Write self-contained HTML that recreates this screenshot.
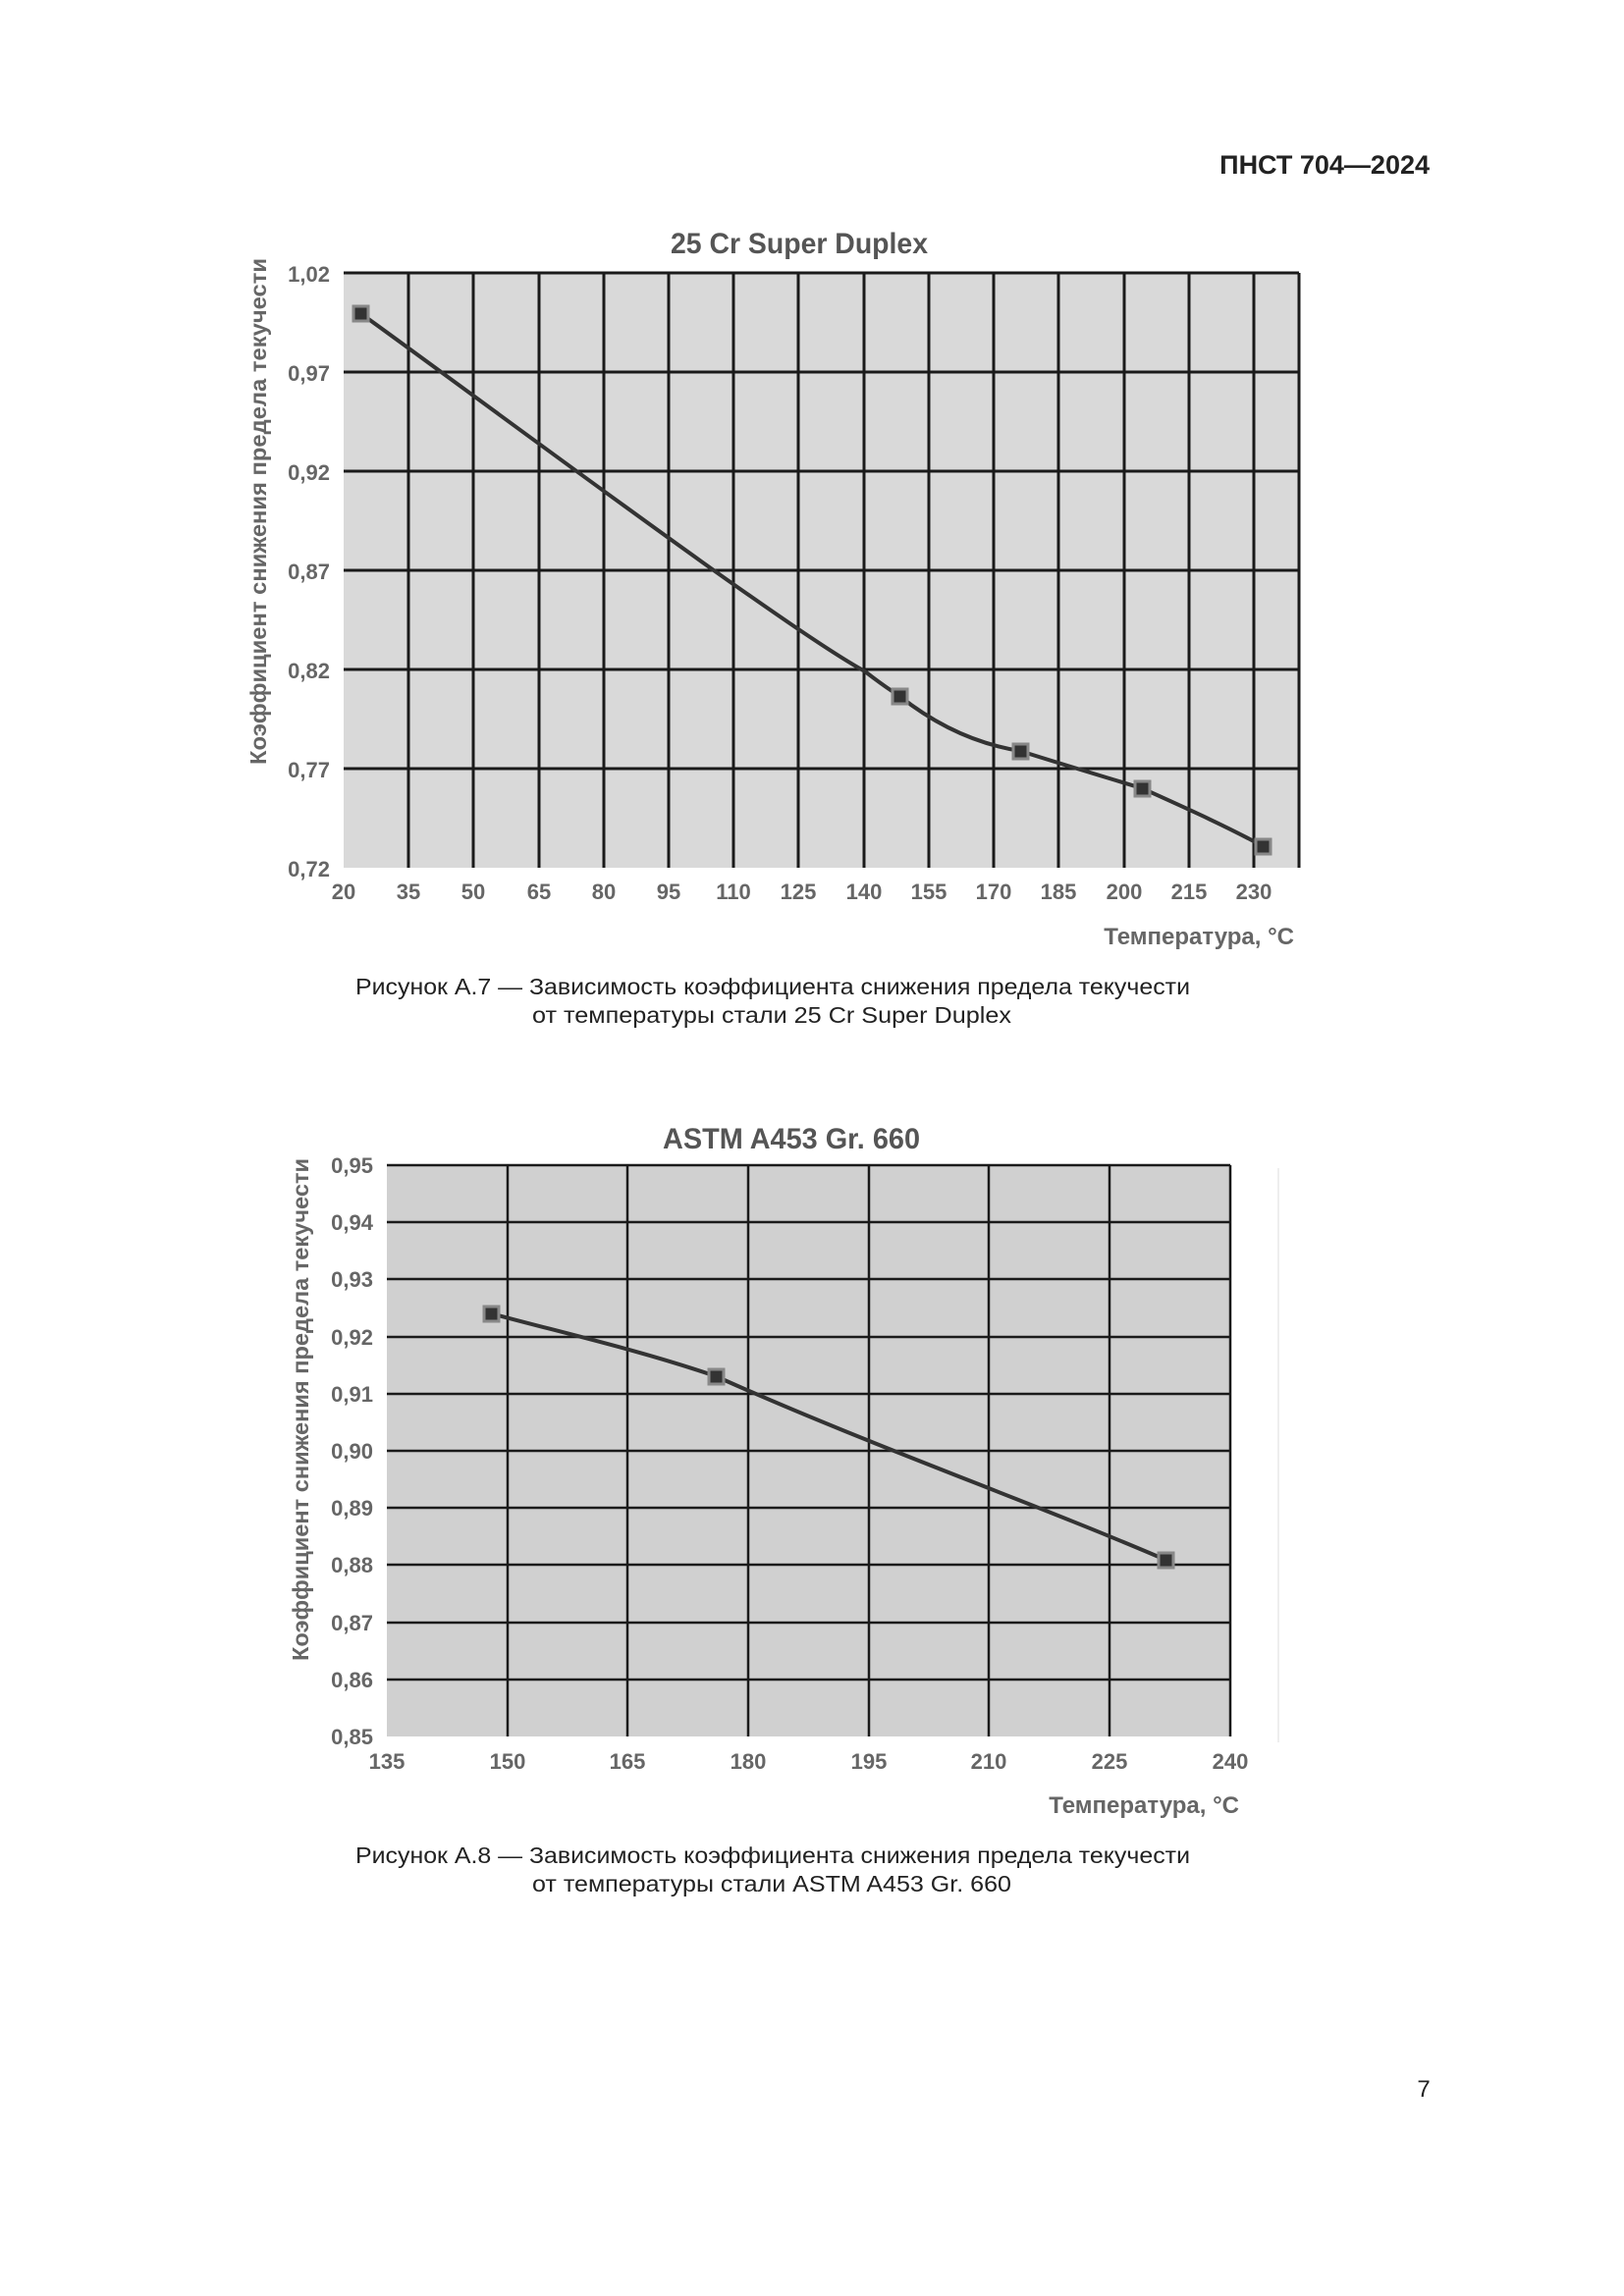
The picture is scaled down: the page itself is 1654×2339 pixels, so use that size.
<!DOCTYPE html>
<html><head><meta charset="utf-8"><style>
html,body{margin:0;padding:0;background:#fff}
svg{display:block}
</style></head><body>
<svg width="1654" height="2339" viewBox="0 0 1654 2339" xmlns="http://www.w3.org/2000/svg" font-family="'Liberation Sans', sans-serif">
<rect width="1654" height="2339" fill="#fff"/>
<text x="1456" y="177" text-anchor="end" font-size="27" font-weight="bold" fill="#222">ПНСТ 704—2024</text>

<!-- Chart 1 -->
<text x="814" y="258" text-anchor="middle" font-size="30" font-weight="bold" fill="#555" textLength="262" lengthAdjust="spacingAndGlyphs">25 Cr Super Duplex</text>
<rect x="350" y="278" width="973" height="606" fill="#d9d9d9"/>
<g stroke="#1a1a1a" stroke-width="3">
<line x1="350" y1="278" x2="1323" y2="278"/>
<line x1="350" y1="379" x2="1323" y2="379"/>
<line x1="350" y1="480" x2="1323" y2="480"/>
<line x1="350" y1="581" x2="1323" y2="581"/>
<line x1="350" y1="682" x2="1323" y2="682"/>
<line x1="350" y1="783" x2="1323" y2="783"/>
<line x1="416" y1="278" x2="416" y2="884"/>
<line x1="482" y1="278" x2="482" y2="884"/>
<line x1="549" y1="278" x2="549" y2="884"/>
<line x1="615" y1="278" x2="615" y2="884"/>
<line x1="681" y1="278" x2="681" y2="884"/>
<line x1="747" y1="278" x2="747" y2="884"/>
<line x1="813" y1="278" x2="813" y2="884"/>
<line x1="880" y1="278" x2="880" y2="884"/>
<line x1="946" y1="278" x2="946" y2="884"/>
<line x1="1012" y1="278" x2="1012" y2="884"/>
<line x1="1078" y1="278" x2="1078" y2="884"/>
<line x1="1145" y1="278" x2="1145" y2="884"/>
<line x1="1211" y1="278" x2="1211" y2="884"/>
<line x1="1277" y1="278" x2="1277" y2="884"/>
<line x1="1323" y1="278" x2="1323" y2="884"/>
</g>
<g font-size="22" font-weight="bold" fill="#666" text-anchor="end">
<text x="336" y="287">1,02</text>
<text x="336" y="388">0,97</text>
<text x="336" y="489">0,92</text>
<text x="336" y="590">0,87</text>
<text x="336" y="691">0,82</text>
<text x="336" y="792">0,77</text>
<text x="336" y="893">0,72</text>
</g>
<g font-size="22" font-weight="bold" fill="#666" text-anchor="middle">
<text x="350" y="916">20</text><text x="416" y="916">35</text><text x="482" y="916">50</text><text x="549" y="916">65</text><text x="615" y="916">80</text><text x="681" y="916">95</text><text x="747" y="916">110</text><text x="813" y="916">125</text><text x="880" y="916">140</text><text x="946" y="916">155</text><text x="1012" y="916">170</text><text x="1078" y="916">185</text><text x="1145" y="916">200</text><text x="1211" y="916">215</text><text x="1277" y="916">230</text>
</g>
<text x="1318" y="962" text-anchor="end" font-size="24" font-weight="bold" fill="#666">Температура, °С</text>
<text transform="translate(271,521) rotate(-90)" text-anchor="middle" font-size="23" font-weight="bold" fill="#666" textLength="516" lengthAdjust="spacingAndGlyphs">Коэффициент снижения предела текучести</text>
<path d="M367,319 C500,415 800,640 881,684 C895,695 905,702 916,709 C955,740 995,758 1039,765 C1080,778 1120,790 1163,803 C1205,822 1250,842 1286,862" fill="none" stroke="#333" stroke-width="4"/>
<g fill="#333" stroke="#888" stroke-width="3">
<rect x="360" y="312" width="15" height="15"/>
<rect x="909" y="702" width="15" height="15"/>
<rect x="1032" y="758" width="15" height="15"/>
<rect x="1156" y="796" width="15" height="15"/>
<rect x="1279" y="855" width="15" height="15"/>
</g>
<g font-size="23" fill="#222" text-anchor="middle">
<text x="787" y="1013" textLength="850" lengthAdjust="spacingAndGlyphs">Рисунок А.7 — Зависимость коэффициента снижения предела текучести</text>
<text x="786" y="1042" textLength="488" lengthAdjust="spacingAndGlyphs">от температуры стали 25 Cr Super Duplex</text>
</g>

<!-- Chart 2 -->
<text x="806" y="1170" text-anchor="middle" font-size="30" font-weight="bold" fill="#555" textLength="262" lengthAdjust="spacingAndGlyphs">ASTM A453 Gr. 660</text>
<line x1="1302" y1="1190" x2="1302" y2="1775" stroke="#eee" stroke-width="2"/>
<rect x="394" y="1187" width="859" height="582" fill="#d0d0d0"/>
<g stroke="#1a1a1a" stroke-width="2.5">
<line x1="394" y1="1187" x2="1253" y2="1187"/>
<line x1="394" y1="1245" x2="1253" y2="1245"/>
<line x1="394" y1="1303" x2="1253" y2="1303"/>
<line x1="394" y1="1362" x2="1253" y2="1362"/>
<line x1="394" y1="1420" x2="1253" y2="1420"/>
<line x1="394" y1="1478" x2="1253" y2="1478"/>
<line x1="394" y1="1536" x2="1253" y2="1536"/>
<line x1="394" y1="1594" x2="1253" y2="1594"/>
<line x1="394" y1="1653" x2="1253" y2="1653"/>
<line x1="394" y1="1711" x2="1253" y2="1711"/>
<line x1="517" y1="1187" x2="517" y2="1769"/>
<line x1="639" y1="1187" x2="639" y2="1769"/>
<line x1="762" y1="1187" x2="762" y2="1769"/>
<line x1="885" y1="1187" x2="885" y2="1769"/>
<line x1="1007" y1="1187" x2="1007" y2="1769"/>
<line x1="1130" y1="1187" x2="1130" y2="1769"/>
<line x1="1253" y1="1187" x2="1253" y2="1769"/>
</g>
<g font-size="22" font-weight="bold" fill="#666" text-anchor="end">
<text x="380" y="1195">0,95</text><text x="380" y="1253">0,94</text><text x="380" y="1311">0,93</text><text x="380" y="1370">0,92</text><text x="380" y="1428">0,91</text><text x="380" y="1486">0,90</text><text x="380" y="1544">0,89</text><text x="380" y="1602">0,88</text><text x="380" y="1661">0,87</text><text x="380" y="1719">0,86</text><text x="380" y="1777">0,85</text>
</g>
<g font-size="22" font-weight="bold" fill="#666" text-anchor="middle">
<text x="394" y="1802">135</text><text x="517" y="1802">150</text><text x="639" y="1802">165</text><text x="762" y="1802">180</text><text x="885" y="1802">195</text><text x="1007" y="1802">210</text><text x="1130" y="1802">225</text><text x="1253" y="1802">240</text>
</g>
<text x="1262" y="1847" text-anchor="end" font-size="24" font-weight="bold" fill="#666">Температура, °С</text>
<text transform="translate(314,1436) rotate(-90)" text-anchor="middle" font-size="23" font-weight="bold" fill="#666" textLength="512" lengthAdjust="spacingAndGlyphs">Коэффициент снижения предела текучести</text>
<path d="M500,1338 C570,1357 650,1375 729,1402 C880,1470 1050,1530 1187,1589" fill="none" stroke="#333" stroke-width="4"/>
<g fill="#333" stroke="#888" stroke-width="3">
<rect x="493" y="1331" width="15" height="15"/>
<rect x="722" y="1395" width="15" height="15"/>
<rect x="1180" y="1582" width="15" height="15"/>
</g>
<g font-size="23" fill="#222" text-anchor="middle">
<text x="787" y="1898" textLength="850" lengthAdjust="spacingAndGlyphs">Рисунок А.8 — Зависимость коэффициента снижения предела текучести</text>
<text x="786" y="1927" textLength="488" lengthAdjust="spacingAndGlyphs">от температуры стали ASTM A453 Gr. 660</text>
</g>

<text x="1450" y="2136" text-anchor="middle" font-size="24" fill="#222">7</text>
</svg>
</body></html>
